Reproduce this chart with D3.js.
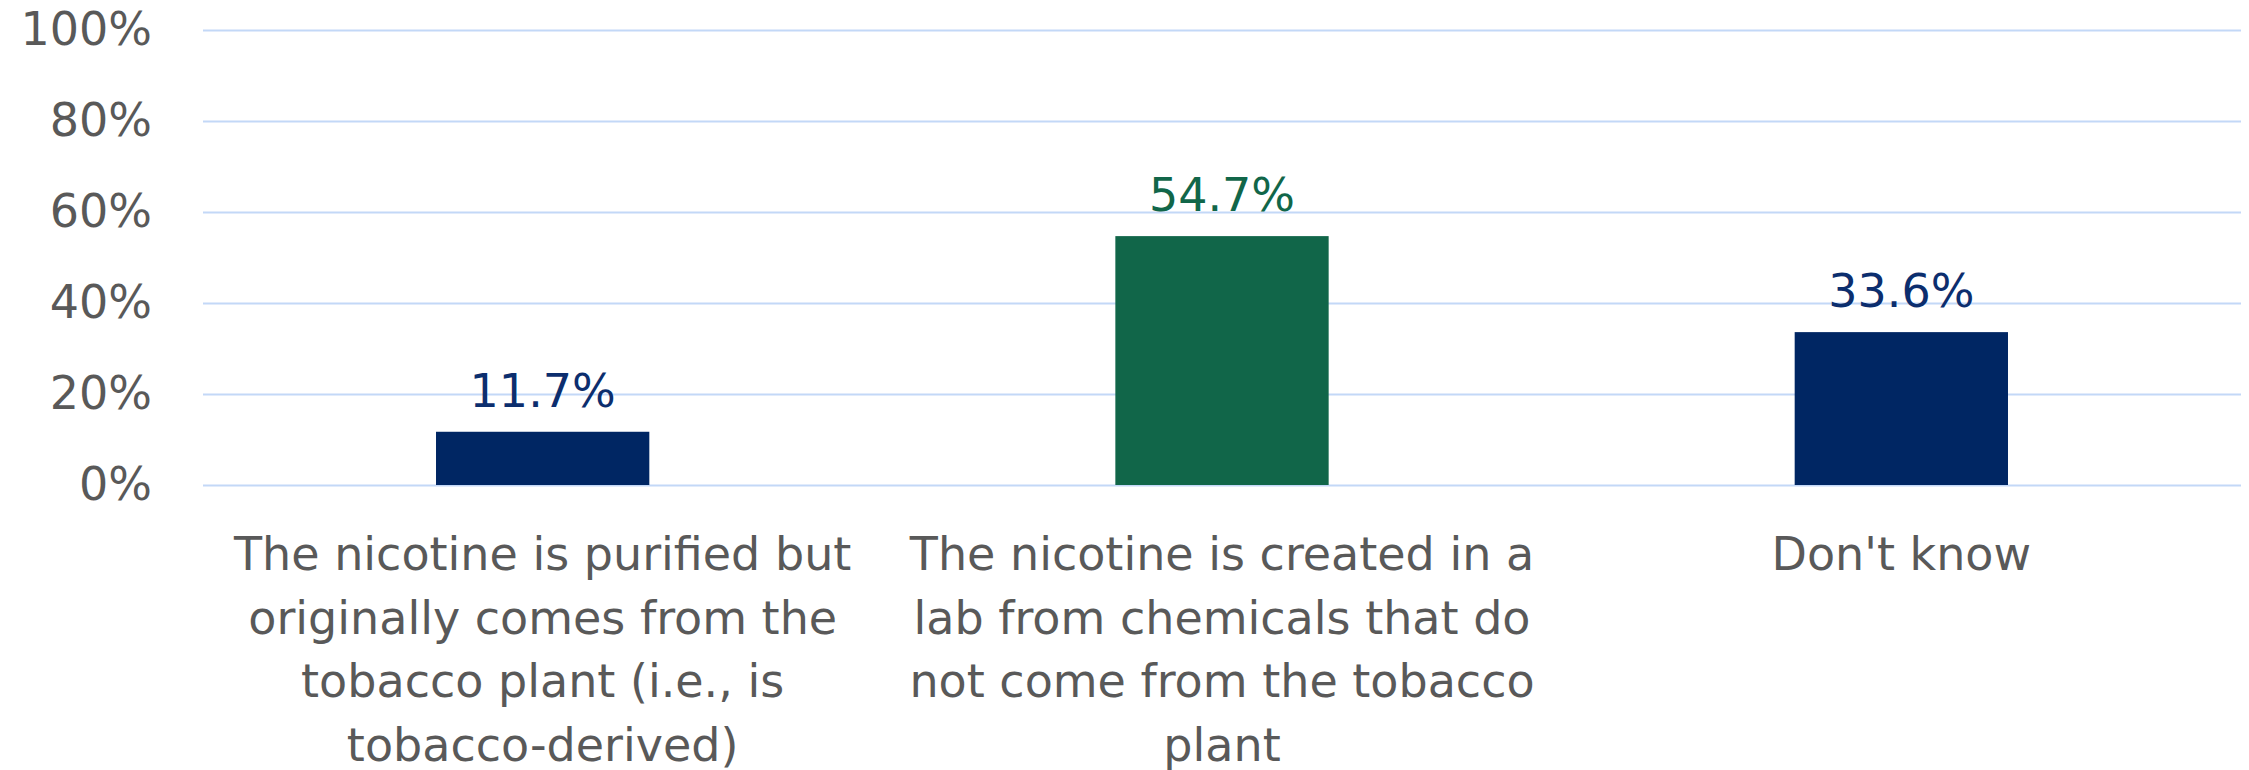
<!DOCTYPE html>
<html>
<head>
<meta charset="utf-8">
<script src="https://cdn.jsdelivr.net/npm/d3@7"></script>
<style>
  html, body { margin: 0; padding: 0; background: #ffffff; }
  svg { display: block; }
  text { font-family: "DejaVu Sans", sans-serif; }
</style>
</head>
<body>
<svg id="chart" width="2249" height="770"></svg>
<script>
// Survey answers and their shares (percent)
const categories = [
  "The nicotine is purified but originally comes from the tobacco plant (i.e., is tobacco-derived)",
  "The nicotine is created in a lab from chemicals that do not come from the tobacco plant",
  "Don't know"
];
const values = [11.7, 54.7, 33.6];
const barColors = ["#002663", "#116649", "#002663"];
const labelColors = ["#0c2e6e", "#116649", "#0c2e6e"];
const yTicks = [0, 20, 40, 60, 80, 100];

const width = 2249, height = 770;
const margin = { top: 30, right: 8, bottom: 285, left: 203 };
const innerW = width - margin.left - margin.right;
const innerH = height - margin.top - margin.bottom;

const svg = d3.select("#chart");
const g = svg.append("g").attr("transform", `translate(${margin.left},${margin.top})`);

const x = d3.scaleBand()
  .domain(categories)
  .range([0, innerW])
  .paddingInner(0.686)
  .paddingOuter(0.343);

const y = d3.scaleLinear().domain([0, 100]).range([innerH, 0]);

// horizontal gridlines
const grid = g.append("g")
  .call(d3.axisLeft(y).tickValues(yTicks).tickSize(-innerW).tickFormat(""));
grid.select(".domain").remove();
grid.selectAll(".tick line").attr("stroke", "#c3d8f7").attr("stroke-width", 2);

// y-axis labels
const yAxis = g.append("g")
  .call(d3.axisLeft(y).tickValues(yTicks).tickSize(0).tickPadding(51).tickFormat(d => d + "%"));
yAxis.select(".domain").remove();
yAxis.selectAll(".tick text")
  .attr("fill", "#595959")
  .attr("font-size", 46)
  .attr("font-family", "DejaVu Sans, sans-serif")
  .attr("dy", "0.32em");

const data = categories.map((c, i) => ({ c, v: values[i], i }));

// bars
g.selectAll("rect.bar")
  .data(data)
  .join("rect")
  .attr("class", "bar")
  .attr("x", d => x(d.c))
  .attr("y", d => y(d.v))
  .attr("width", x.bandwidth())
  .attr("height", d => y(0) - y(d.v))
  .attr("fill", d => barColors[d.i]);

// value labels
g.selectAll("text.val")
  .data(data)
  .join("text")
  .attr("class", "val")
  .attr("x", d => x(d.c) + x.bandwidth() / 2)
  .attr("y", d => y(d.v) - 25)
  .attr("text-anchor", "middle")
  .attr("font-size", 46)
  .attr("fill", d => labelColors[d.i])
  .text(d => d.v.toFixed(1) + "%");

// category labels, wrapped to the band step
const wrapWidth = 660;
const lineH = 63.5;
const catG = g.append("g");
data.forEach(d => {
  const cx = x(d.c) + x.bandwidth() / 2;
  const t = catG.append("text")
    .attr("x", cx)
    .attr("y", innerH + 85)
    .attr("text-anchor", "middle")
    .attr("font-size", 46)
    .attr("fill", "#595959");
  const words = d.c.split(" ");
  let line = [];
  let tspan = t.append("tspan").attr("x", cx).attr("dy", 0);
  words.forEach(w => {
    line.push(w);
    tspan.text(line.join(" "));
    if (tspan.node().getComputedTextLength() > wrapWidth && line.length > 1) {
      line.pop();
      tspan.text(line.join(" "));
      line = [w];
      tspan = t.append("tspan")
        .attr("x", cx)
        .attr("dy", lineH)
        .text(w);
    }
  });
});
</script>
</body>
</html>
